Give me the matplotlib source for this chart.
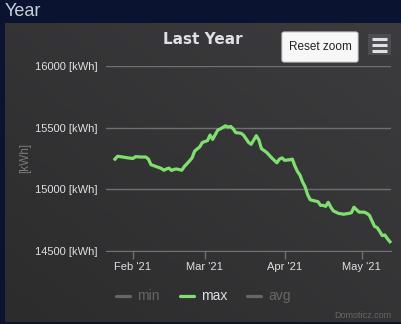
import numpy as np
import pandas as pd
import matplotlib
matplotlib.use("Agg")
import matplotlib.pyplot as plt
import matplotlib.dates as mdates
from matplotlib.patches import FancyBboxPatch, Rectangle
from matplotlib.lines import Line2D

# data (max series, kWh)
dates = ["2021-01-25", "2021-01-26", "2021-01-28", "2021-01-30", "2021-02-01", "2021-02-02",
         "2021-02-04", "2021-02-06", "2021-02-07", "2021-02-08", "2021-02-10", "2021-02-12",
         "2021-02-13", "2021-02-14", "2021-02-15", "2021-02-16", "2021-02-17", "2021-02-18",
         "2021-02-20", "2021-02-21", "2021-02-23", "2021-02-24", "2021-02-25", "2021-02-27",
         "2021-02-28", "2021-03-02", "2021-03-03", "2021-03-04", "2021-03-06", "2021-03-07",
         "2021-03-09", "2021-03-10", "2021-03-11", "2021-03-12", "2021-03-13", "2021-03-15",
         "2021-03-16", "2021-03-18", "2021-03-19", "2021-03-21", "2021-03-22", "2021-03-23",
         "2021-03-25", "2021-03-27", "2021-03-29", "2021-03-30", "2021-03-31", "2021-04-01",
         "2021-04-03", "2021-04-04", "2021-04-05", "2021-04-06", "2021-04-07", "2021-04-08",
         "2021-04-09", "2021-04-10", "2021-04-11", "2021-04-13", "2021-04-14", "2021-04-15",
         "2021-04-16", "2021-04-17", "2021-04-18", "2021-04-19", "2021-04-20", "2021-04-22",
         "2021-04-24", "2021-04-26", "2021-04-27", "2021-04-28", "2021-04-29", "2021-04-30",
         "2021-05-02", "2021-05-03", "2021-05-04", "2021-05-05", "2021-05-06", "2021-05-07",
         "2021-05-08", "2021-05-09", "2021-05-10", "2021-05-11", "2021-05-12"]
max_kwh = [15245, 15268, 15262, 15255, 15250, 15265,
           15262, 15262, 15245, 15200, 15185, 15170,
           15155, 15165, 15172, 15153, 15162, 15165,
           15155, 15185, 15230, 15255, 15310, 15345,
           15380, 15395, 15440, 15405, 15480, 15490,
           15515, 15505, 15510, 15490, 15460, 15455,
           15440, 15380, 15365, 15435, 15400, 15330,
           15300, 15255, 15215, 15245, 15255, 15235,
           15240, 15245, 15190, 15145, 15115, 15060,
           15020, 14955, 14915, 14905, 14900, 14870,
           14870, 14862, 14895, 14855, 14825, 14805,
           14798, 14805, 14810, 14855, 14835, 14815,
           14815, 14805, 14790, 14745, 14700, 14690,
           14660, 14625, 14630, 14600, 14575]
yticks = [14500, 15000, 15500, 16000]
legend_names = ["min", "max", "avg"]

W, H = 402, 324


def fx(x):
    return x / W


def fy(y):
    return 1 - y / H


fig = plt.figure(figsize=(W / 100, H / 100), dpi=100)
fig.patch.set_facecolor("#0a1330")

# panel with diagonal gradient
bg = fig.add_axes([fx(5), fy(322), fx(401) - fx(5), fy(23) - fy(322)])
gx, gy = np.meshgrid(np.linspace(0, 1, 200), np.linspace(1, 0, 150))
grad = (gx + gy) / 2
bg.imshow(grad, cmap=matplotlib.colors.LinearSegmentedColormap.from_list("g", ["#2c2c2d", "#3c3c3e"]),
          aspect="auto", extent=[0, 1, 0, 1], origin="upper")
bg.axis("off")

fig.text(fx(5), fy(12), "Year", fontsize=13, color="#c9d0da", family="Liberation Sans",
         ha="left", va="center")

ax = fig.add_axes([fx(106), fy(251), fx(391) - fx(106), fy(66) - fy(251)])
ax.patch.set_alpha(0)

x = pd.to_datetime(dates)
ax.plot(x, max_kwh, color="#7fe070", lw=2.3, solid_joinstyle="round", clip_on=False)

ax.set_ylim(14500, 16000)
ax.set_xlim(pd.Timestamp("2021-01-21 12:00"), pd.Timestamp("2021-05-12 10:00"))
ax.set_yticks(yticks)
ax.set_yticklabels([f"{v} [kWh]" for v in yticks])
ax.grid(axis="y", color="#707073", lw=1)
ax.set_axisbelow(True)
ax.xaxis.set_major_locator(mdates.MonthLocator())
ax.xaxis.set_major_formatter(mdates.DateFormatter("%b '%y"))
for s in ["top", "right", "left"]:
    ax.spines[s].set_visible(False)
ax.spines["bottom"].set_color("#707073")
ax.tick_params(axis="y", length=0, pad=6, labelsize=8, labelcolor="#e0e0e3")
ax.tick_params(axis="x", length=6, width=1, color="#707073", pad=2, labelsize=8, labelcolor="#e0e0e3")
for lbl in ax.get_xticklabels() + ax.get_yticklabels():
    lbl.set_family("Liberation Sans")

fig.text(fx(25), fy(158), "[kWh]", rotation=90, fontsize=8.5, color="#7a7a7a",
         family="Liberation Sans", ha="center", va="center")

fig.text(fx(203), fy(39), "Last Year", fontsize=11, fontweight="bold", color="#e0e0e3",
         family="DejaVu Sans", ha="center", va="center")

# reset zoom button and menu icon
fig.patches.append(FancyBboxPatch((fx(282), fy(62)), fx(358) - fx(282), fy(32) - fy(62),
                                  boxstyle="round,pad=0,rounding_size=0.006",
                                  transform=fig.transFigure, facecolor="#f7f7f7",
                                  edgecolor="#cccccc", lw=0.8))
fig.text(fx(320), fy(47), "Reset zoom", fontsize=8.5, color="#222222",
         family="Liberation Sans", ha="center", va="center")
fig.patches.append(Rectangle((fx(368), fy(55)), fx(391) - fx(368), fy(34) - fy(55),
                             transform=fig.transFigure, facecolor="#4d4d4f", edgecolor="none"))
for yy in [39, 45, 51]:
    fig.lines.append(Line2D([fx(372), fx(387)], [fy(yy), fy(yy)], transform=fig.transFigure,
                            color="#e0e0e0", lw=2.2, solid_capstyle="butt"))

# legend
leg_x = [116, 180, 247]
leg_col = ["#666666", "#7fe070", "#666666"]
txt_col = ["#666666", "#e0e0e3", "#666666"]
for name, lx, lc, tc in zip(legend_names, leg_x, leg_col, txt_col):
    fig.lines.append(Line2D([fx(lx), fx(lx + 14)], [fy(296), fy(296)], transform=fig.transFigure,
                            color=lc, lw=2.3, solid_capstyle="round"))
    fig.text(fx(lx + 21), fy(296), name, fontsize=10, color=tc, family="Liberation Sans",
             ha="left", va="center")

fig.text(fx(391), fy(315), "Domoticz.com", fontsize=6.5, color="#666666",
         family="Liberation Sans", ha="right", va="center")

fig.savefig("out.png", dpi=100, facecolor=fig.get_facecolor())
